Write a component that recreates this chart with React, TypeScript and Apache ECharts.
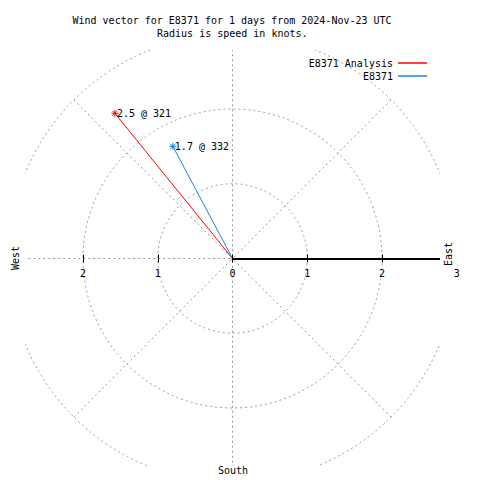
import React, { useEffect, useRef } from 'react';
import * as echarts from 'echarts';

const titleLines = ['Wind vector for E8371 for 1 days from 2024-Nov-23 UTC', 'Radius is speed in knots.'];
const seriesNames = ['E8371 Analysis', 'E8371'];
const speeds = [2.5, 1.7];
const directions = [321, 332];
const seriesColors = ['#ff0000', '#1a80e6'];
const tickValues = [-2, -1, 0, 1, 2];
const labelValues = [-2, -1, 0, 1, 2, 3];
const compassLabels = ['West', 'East', 'South'];

const FONT = '"DejaVu Sans Mono", monospace';
const STAR = 'path://M3.5,0V7M0,3.5H7M1,1L6,6M1,6L6,1';
const GRID_COLOR = '#9a9a9a';

export default function App() {
  const ref = useRef<HTMLDivElement>(null);
  useEffect(() => {
    if (!ref.current) return;
    const chart = echarts.init(ref.current, undefined, { renderer: 'svg' });
    const cx = 232.5;
    const cy = 258.5;
    const unit = 74.75;
    const textBase = { fontFamily: FONT, fontSize: 10, fill: '#000' };
    const option: any = {
      animation: false,
      backgroundColor: '#fff',
      title: [
        { text: titleLines[0], left: 72.5, top: 14, padding: 0, z: 100,
          textStyle: { fontFamily: FONT, fontSize: 10, fontWeight: 'normal', color: '#000', lineHeight: 12 } },
        { text: titleLines[1], left: 157, top: 27, padding: 0, z: 100,
          textStyle: { fontFamily: FONT, fontSize: 10, fontWeight: 'normal', color: '#000', lineHeight: 12 } },
      ],
      legend: {
        orient: 'vertical', align: 'right', right: 53, top: 57, padding: 0, itemGap: 1,
        itemWidth: 29, itemHeight: 1.5, icon: 'rect', z: 100,
        itemStyle: { borderWidth: 0 },
        textStyle: { fontFamily: FONT, fontSize: 10, color: '#000', lineHeight: 12 },
        data: seriesNames,
      },
      polar: { center: [cx, cy], radius: 3 * unit },
      angleAxis: {
        type: 'value', min: 90, max: 450, interval: 45, startAngle: 0, clockwise: true,
        axisLine: { show: false }, axisTick: { show: false }, axisLabel: { show: false },
        splitLine: { show: true, lineStyle: { color: GRID_COLOR, type: [2, 3], width: 1 } },
        z: 1,
      },
      radiusAxis: {
        type: 'value', min: 0, max: 3, interval: 1, z: 3,
        axisLine: { show: true, lineStyle: { color: '#000', width: 2 } },
        axisTick: { show: false }, axisLabel: { show: false },
        splitLine: { show: true, lineStyle: { color: GRID_COLOR, type: [2, 3], width: 1 } },
      },
      grid: { left: cx - 3 * unit, width: 6 * unit, top: cy - 5, height: 5 },
      xAxis: [
        {
          type: 'value', min: -3, max: 3, interval: 1, position: 'bottom', z: 100,
          axisLine: { show: false },
          axisTick: { show: true, customValues: tickValues, length: 4, inside: false, lineStyle: { color: '#000', width: 1 } },
          axisLabel: { show: true, customValues: labelValues, margin: 10, color: '#000', fontFamily: FONT, fontSize: 10,
            formatter: (v: number) => String(Math.abs(v)) },
          splitLine: { show: false },
        },
        {
          type: 'value', min: -3, max: 3, interval: 1, position: 'bottom', offset: 0, z: 100,
          axisLine: { show: false },
          axisTick: { show: true, customValues: tickValues, length: 4, inside: true, lineStyle: { color: '#000', width: 1 } },
          axisLabel: { show: false },
          splitLine: { show: false },
        },
      ],
      yAxis: { type: 'value', min: 0, max: 1, show: false },
      graphic: [
        { type: 'rect', silent: true, z: 50, shape: { x: 0, y: 0, width: 480, height: 50 }, style: { fill: '#fff' } },
        { type: 'rect', silent: true, z: 50, shape: { x: 0, y: 466, width: 480, height: 14 }, style: { fill: '#fff' } },
        { type: 'rect', silent: true, z: 50, shape: { x: 0, y: 0, width: 25, height: 480 }, style: { fill: '#fff' } },
        { type: 'rect', silent: true, z: 50, shape: { x: 440, y: 0, width: 40, height: 480 }, style: { fill: '#fff' } },
        { type: 'text', z: 100, x: 15, y: 258, rotation: Math.PI / 2,
          style: { ...textBase, text: compassLabels[0], align: 'center', verticalAlign: 'middle' } },
        { type: 'text', z: 100, x: 448, y: 254, rotation: Math.PI / 2,
          style: { ...textBase, text: compassLabels[1], align: 'center', verticalAlign: 'middle' } },
        { type: 'text', z: 100, x: 233, y: 470,
          style: { ...textBase, text: compassLabels[2], align: 'center', verticalAlign: 'middle' } },
      ],
      series: speeds.map((s, i) => ({
        name: seriesNames[i],
        type: 'line',
        coordinateSystem: 'polar',
        polarIndex: 0,
        symbol: STAR,
        symbolSize: 7,
        silent: true,
        z: 10,
        lineStyle: { color: seriesColors[i], width: 1 },
        itemStyle: { color: seriesColors[i], borderColor: seriesColors[i], borderWidth: 1 },
        emphasis: { disabled: true },
        data: [
          { value: [0, directions[i]], symbol: 'none', label: { show: false } },
          {
            value: [s, directions[i]],
            label: {
              show: true, position: 'right', distance: -2,
              formatter: `${s} @ ${directions[i]}`,
              color: '#000', fontFamily: FONT, fontSize: 10,
            },
          },
        ],
      })),
    };
    chart.setOption(option);
    return () => chart.dispose();
  }, []);
  return (
    <div
      ref={ref}
      style={{ position: 'absolute', left: 0, top: 0, width: 480, height: 480, background: '#fff' }}
    />
  );
}
